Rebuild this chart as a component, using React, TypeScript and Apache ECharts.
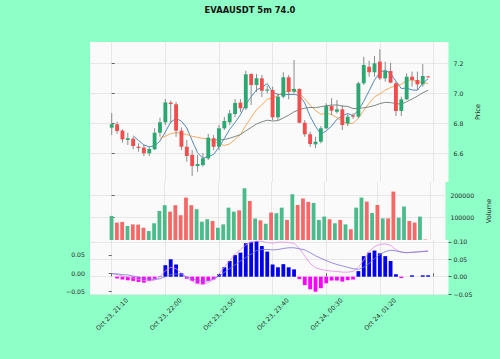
import React, { useEffect, useRef } from 'react';
import * as echarts from 'echarts';

const chartTitle = 'EVAAUSDT 5m 74.0';

const opens = [6.770, 6.793, 6.750, 6.687, 6.696, 6.642, 6.636, 6.598, 6.625, 6.736,
  6.806, 6.938, 6.927, 6.750, 6.642, 6.587, 6.513, 6.519, 6.564, 6.699,
  6.642, 6.766, 6.806, 6.862, 6.938, 6.900, 7.130, 7.056, 7.101, 7.018,
  7.023, 6.840, 6.978, 7.108, 7.011, 7.030, 6.803, 6.726, 6.658, 6.676,
  6.766, 6.915, 6.877, 6.893, 6.799, 6.852, 6.844, 7.068, 7.179, 7.142,
  7.213, 7.101, 7.150, 7.068, 6.882, 6.960, 7.112, 7.090, 7.061, 7.114];

const closes = [6.793, 6.748, 6.692, 6.699, 6.647, 6.634, 6.598, 6.627, 6.736, 6.806,
  6.940, 6.929, 6.750, 6.642, 6.580, 6.513, 6.526, 6.564, 6.703, 6.642,
  6.766, 6.815, 6.866, 6.936, 6.900, 7.128, 7.056, 7.101, 7.018, 7.026,
  6.840, 6.978, 7.108, 7.011, 7.030, 6.803, 6.726, 6.660, 6.676, 6.766,
  6.915, 6.884, 6.893, 6.788, 6.844, 6.844, 7.068, 7.191, 7.142, 7.202,
  7.101, 7.150, 7.072, 6.882, 6.960, 7.112, 7.090, 7.061, 7.117, 7.112];

const lows = [6.721, 6.728, 6.669, 6.654, 6.625, 6.609, 6.580, 6.580, 6.620, 6.709,
  6.788, 6.799, 6.709, 6.620, 6.542, 6.446, 6.474, 6.508, 6.553, 6.620,
  6.620, 6.754, 6.788, 6.842, 6.875, 6.889, 6.922, 7.009, 6.976, 7.000,
  6.821, 6.821, 6.967, 6.960, 7.000, 6.799, 6.709, 6.642, 6.632, 6.665,
  6.759, 6.855, 6.866, 6.754, 6.781, 6.830, 6.833, 7.056, 7.112, 7.112,
  7.090, 7.079, 7.068, 6.848, 6.848, 6.956, 7.045, 7.023, 7.045, 7.108];

const highs = [6.868, 6.810, 6.759, 6.736, 6.709, 6.665, 6.654, 6.642, 6.766, 6.837,
  6.962, 6.951, 6.943, 6.772, 6.687, 6.620, 6.587, 6.600, 6.728, 6.721,
  6.788, 6.842, 6.889, 6.962, 6.962, 7.152, 7.135, 7.130, 7.123, 7.050,
  7.045, 7.000, 7.142, 7.123, 7.224, 7.034, 6.821, 6.743, 6.709, 6.781,
  6.934, 6.967, 6.956, 6.922, 6.862, 6.866, 7.079, 7.246, 7.219, 7.251,
  7.296, 7.213, 7.206, 7.079, 6.978, 7.135, 7.146, 7.146, 7.197, 7.118];

const volumes = [108000, 78000, 81000, 63000, 70000, 69000, 55000, 40000, 75000, 130000,
  156000, 127000, 156000, 111000, 190000, 156000, 138000, 82000, 93000, 85000,
  55000, 70000, 145000, 127000, 133000, 232000, 175000, 96000, 88000, 73000,
  123000, 120000, 145000, 90000, 205000, 157000, 186000, 171000, 166000, 90000,
  105000, 93000, 75000, 90000, 70000, 48000, 145000, 190000, 172000, 121000,
  157000, 97000, 97000, 217000, 100000, 150000, 85000, 78000, 105000, 2000];

const macdHist = [0.000, -0.005, -0.008, -0.010, -0.012, -0.015, -0.017, -0.012, -0.006, 0.001,
  0.033, 0.050, 0.035, 0.010, -0.006, -0.012, -0.020, -0.022, -0.012, -0.008,
  0.007, 0.027, 0.045, 0.062, 0.069, 0.096, 0.100, 0.102, 0.088, 0.072,
  0.035, 0.027, 0.036, 0.027, 0.021, -0.007, -0.024, -0.036, -0.043, -0.033,
  -0.019, -0.011, -0.011, -0.014, -0.010, -0.008, 0.016, 0.059, 0.069, 0.075,
  0.067, 0.059, 0.045, 0.007, -0.004, 0.000, 0.004, 0.000, 0.004, 0.004];

const macdLine = [0.009, 0.006, 0.002, -0.001, -0.004, -0.008, -0.011, -0.012, -0.010, 0.000,
  0.017, 0.027, 0.023, 0.010, -0.003, -0.013, -0.020, -0.022, -0.017, -0.009,
  0.008, 0.027, 0.046, 0.065, 0.078, 0.091, 0.099, 0.102, 0.101, 0.098,
  0.096, 0.099, 0.099, 0.098, 0.096, 0.081, 0.059, 0.038, 0.026, 0.021,
  0.018, 0.016, 0.015, 0.013, 0.013, 0.015, 0.027, 0.048, 0.072, 0.086,
  0.093, 0.094, 0.090, 0.077, 0.070, 0.069, 0.070, 0.071, 0.073, 0.074];

const signalLine = [0.009, 0.008, 0.006, 0.005, 0.002, -0.002, -0.005, -0.007, -0.008, -0.006,
  0.000, 0.006, 0.008, 0.005, 0.000, -0.006, -0.011, -0.013, -0.012, -0.006,
  0.002, 0.012, 0.023, 0.034, 0.045, 0.055, 0.065, 0.075, 0.078, 0.078,
  0.077, 0.078, 0.081, 0.083, 0.083, 0.080, 0.077, 0.069, 0.060, 0.053,
  0.046, 0.040, 0.035, 0.031, 0.027, 0.023, 0.021, 0.027, 0.038, 0.052,
  0.063, 0.072, 0.076, 0.074, 0.071, 0.069, 0.070, 0.071, 0.072, 0.073];

const xTickIndex = [0, 10, 20, 30, 40, 50, 60];
const xTickLabels = ['Oct 23, 21:10', 'Oct 23, 22:00', 'Oct 23, 22:50', 'Oct 23, 23:40', 'Oct 24, 00:30', 'Oct 24, 01:20', ''];
const priceTicks = [6.6, 6.8, 7.0, 7.2];
const volumeTicks = [100000, 200000];
const macdLeftTicks = [-0.05, 0, 0.05];
const macdRightTicks = [-0.05, 0, 0.05, 0.1];
const maPeriods = [5, 10, 20];

const FONT = 'DejaVu Sans';
const UP = '#2aa872';
const DOWN = '#f24d4d';
const VOL_UP = '#4cbb8c';
const VOL_DOWN = '#f46868';
const WICK = '#808080';
const MA_COLORS = ['#3f7cb6', '#f2a24f', '#6f7c74'];
const TXT = '#262626';

function sma(values: number[], n: number): (number | null)[] {
  return values.map((_, i) => {
    if (i < n - 1) return null;
    let s = 0;
    for (let k = i - n + 1; k <= i; k++) s += values[k];
    return s / n;
  });
}

const fmtMinus = (s: string) => s.replace('-', '\u2212');

export default function App() {
  const ref = useRef<HTMLDivElement>(null);
  useEffect(() => {
    const chart = echarts.init(ref.current!, null, { renderer: 'svg' });
    const xMin = -4.05;
    const xMax = 62.8;
    const gridLeft = 90;
    const gridRight = 51.5;
    const splitStyle = { color: '#dedede', width: 0.7 };
    const labelStyle = { fontFamily: FONT, fontSize: 6.2, color: TXT };

    const mkX = (gi: number, showLabels: boolean) => ({
      type: 'value',
      gridIndex: gi,
      min: xMin,
      max: xMax,
      axisLine: { show: false },
      axisTick: { show: showLabels, customValues: xTickIndex, length: 3, lineStyle: { color: TXT, width: 0.7 } },
      axisLabel: {
        show: showLabels,
        customValues: xTickIndex.slice(0, 6),
        formatter: (v: number) => {
          const k = xTickIndex.indexOf(Math.round(v));
          return k >= 0 ? xTickLabels[k] : '';
        },
        rotate: 45,
        align: 'center',
        verticalAlign: 'middle',
        margin: 19,
        ...labelStyle,
      },
      splitLine: { show: true, lineStyle: splitStyle },
    });

    const candleData = opens.map((o, i) => [i, o, closes[i], lows[i], highs[i]]);

    const maSeries = maPeriods.map((p, k) => ({
      type: 'line',
      xAxisIndex: 0,
      yAxisIndex: 0,
      symbol: 'none',
      data: sma(closes, p).map((v, i) => (v === null ? null : [i, v])).filter((d) => d !== null),
      lineStyle: { color: MA_COLORS[k], width: 0.9 },
      z: 3,
    }));

    const option: any = {
      animation: false,
      backgroundColor: '#8effc6',
      title: {
        text: chartTitle,
        left: 'center',
        top: 1,
        textStyle: { fontFamily: FONT, fontSize: 8.4, fontWeight: 'bold', color: '#111' },
      },
      grid: [
        { left: gridLeft, right: gridRight, top: 42, height: 140, show: true, backgroundColor: '#fafafa', borderWidth: 0 },
        { left: gridLeft, right: gridRight, top: 182, height: 58, show: true, backgroundColor: '#fafafa', borderWidth: 0 },
        { left: gridLeft, right: gridRight, top: 240, height: 55, show: true, backgroundColor: '#fafafa', borderWidth: 0 },
      ],
      xAxis: [mkX(0, false), mkX(1, false), mkX(2, true)],
      yAxis: [
        {
          type: 'value', gridIndex: 0, position: 'right', min: 6.4054, max: 7.345,
          name: 'Price', nameLocation: 'middle', nameGap: 20, nameRotate: 90,
          nameTextStyle: { fontFamily: FONT, fontSize: 6.6, color: TXT },
          axisLine: { show: false },
          axisTick: { show: true, customValues: priceTicks, length: 3, lineStyle: { color: TXT, width: 0.7 } },
          axisLabel: { customValues: priceTicks, formatter: (v: number) => v.toFixed(1), margin: 5, ...labelStyle },
          splitLine: { show: true, lineStyle: splitStyle },
        },
        {
          type: 'value', gridIndex: 1, position: 'right', min: 0, max: 260000,
          name: 'Volume', nameLocation: 'middle', nameGap: 20, nameRotate: 90,
          nameTextStyle: { fontFamily: FONT, fontSize: 6.6, color: TXT },
          axisLine: { show: false },
          axisTick: { show: true, customValues: volumeTicks, length: 3, lineStyle: { color: TXT, width: 0.7 } },
          axisLabel: { customValues: volumeTicks, formatter: (v: number) => String(Math.round(v)), margin: 5, ...labelStyle },
          splitLine: { show: true, lineStyle: splitStyle },
        },
        {
          type: 'value', gridIndex: 2, position: 'left', min: -0.0591, max: 0.0907,
          axisLine: { show: false },
          axisTick: { show: true, customValues: macdLeftTicks, length: 3, lineStyle: { color: TXT, width: 0.7 } },
          axisLabel: { customValues: macdLeftTicks, formatter: (v: number) => fmtMinus(v.toFixed(2)), margin: 5, ...labelStyle },
          splitLine: { show: false },
        },
        {
          type: 'value', gridIndex: 2, position: 'right', min: -0.0525, max: 0.1053,
          axisLine: { show: false },
          axisTick: { show: true, customValues: macdRightTicks, length: 3, lineStyle: { color: TXT, width: 0.7 } },
          axisLabel: { customValues: macdRightTicks, formatter: (v: number) => fmtMinus(v.toFixed(2)), margin: 5, ...labelStyle },
          splitLine: { show: true, lineStyle: splitStyle },
        },
      ],
      series: [
        {
          type: 'custom',
          xAxisIndex: 0,
          yAxisIndex: 0,
          data: candleData,
          encode: { x: 0, y: [1, 2, 3, 4] },
          z: 4,
          renderItem: (_params: any, api: any) => {
            const i = api.value(0);
            const o = api.value(1);
            const c = api.value(2);
            const l = api.value(3);
            const h = api.value(4);
            const po = api.coord([i, o]);
            const pc = api.coord([i, c]);
            const pl = api.coord([i, l]);
            const ph = api.coord([i, h]);
            const w = api.size([1, 0])[0] * 0.72;
            const up = c >= o;
            const top = Math.min(po[1], pc[1]);
            const hgt = Math.max(Math.abs(po[1] - pc[1]), 1);
            return {
              type: 'group',
              children: [
                { type: 'line', shape: { x1: ph[0], y1: ph[1], x2: pl[0], y2: pl[1] }, style: { stroke: WICK, lineWidth: 0.9 } },
                { type: 'rect', shape: { x: po[0] - w / 2, y: top, width: w, height: hgt }, style: { fill: up ? UP : DOWN } },
              ],
            };
          },
        },
        ...maSeries,
        {
          type: 'bar',
          xAxisIndex: 1,
          yAxisIndex: 1,
          barWidth: 3.8,
          data: volumes.map((v, i) => ({ value: [i, v], itemStyle: { color: closes[i] >= opens[i] ? VOL_UP : VOL_DOWN } })),
        },
        {
          type: 'bar',
          xAxisIndex: 2,
          yAxisIndex: 3,
          barWidth: 3.8,
          data: macdHist.map((v, i) => ({ value: [i, v], itemStyle: { color: v >= 0 ? '#0000ee' : '#ff00ff' } })),
        },
        {
          type: 'line', xAxisIndex: 2, yAxisIndex: 3, symbol: 'none',
          data: macdLine.map((v, i) => [i, v]),
          lineStyle: { color: '#e48ae4', width: 0.8 },
        },
        {
          type: 'line', xAxisIndex: 2, yAxisIndex: 3, symbol: 'none',
          data: signalLine.map((v, i) => [i, v]),
          lineStyle: { color: '#7b73dd', width: 0.8 },
        },
      ],
    };
    chart.setOption(option);
    return () => chart.dispose();
  }, []);
  return <div ref={ref} style={{ position: 'fixed', left: 0, top: 0, width: 500, height: 359 }} />;
}
